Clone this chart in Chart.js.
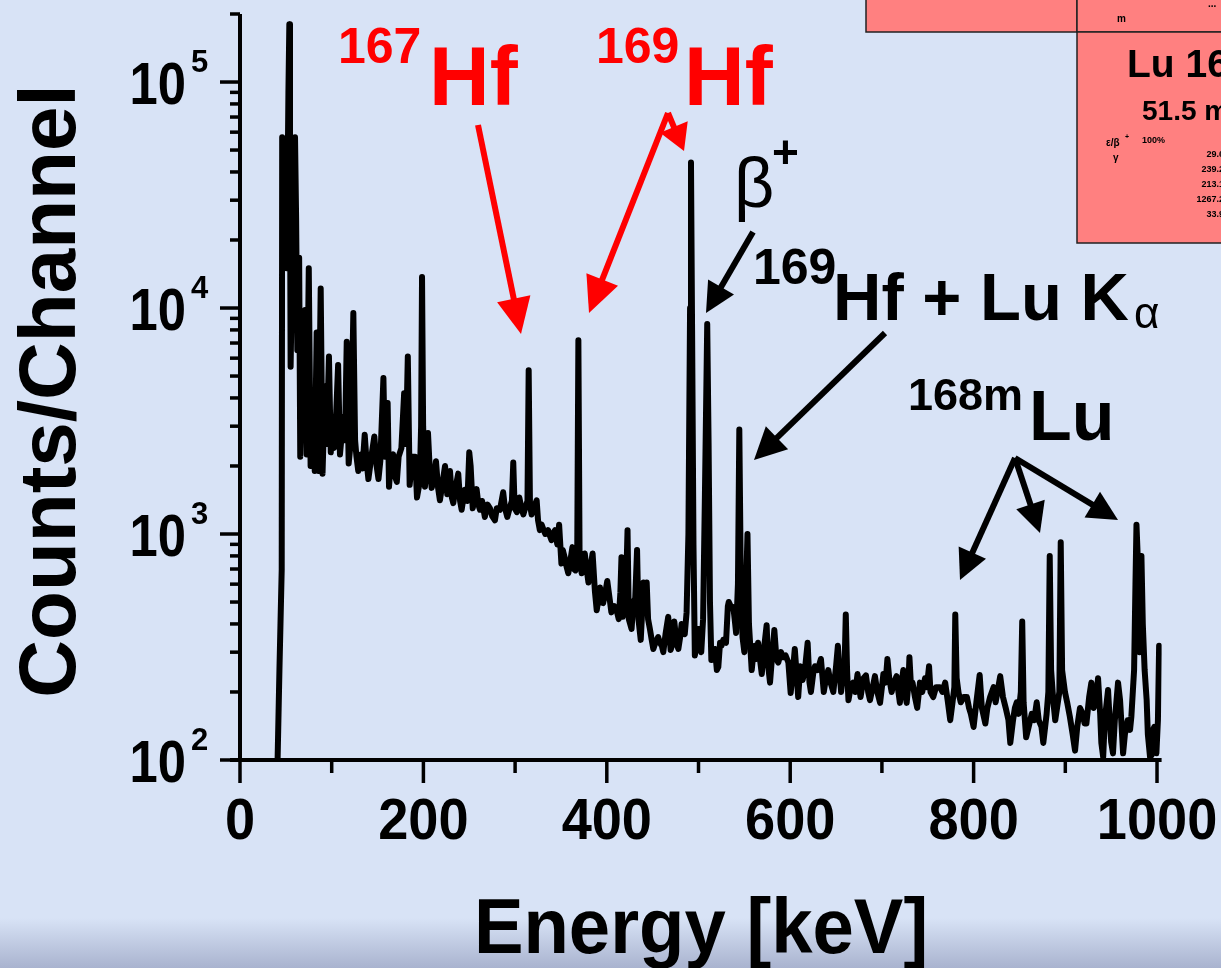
<!DOCTYPE html>
<html><head><meta charset="utf-8">
<script src="https://cdn.jsdelivr.net/npm/chart.js@4/dist/chart.umd.min.js"></script>
<style>html,body{margin:0;padding:0;background:#d8e3f6;overflow:hidden}</style>
</head><body>
<canvas id="c" width="1221" height="968"></canvas>
<script>
// ---- data ----
const energy = [41,43,45.5,46,47,48,49.5,51,52.8,53.8,54.5,55.2,56.5,58,60,61.2,62.5,64.5,65.7,67,69,71,72.7,75,77,80,81.5,83.6,85.5,88,90,92.7,94.5,97,99,100.5,102.5,105,107,109,112.7,114.5,116.4,118.5,121,123.6,125.5,127,129,131.6,133.5,136,138,140,143.6,146.5,149,151,153,156.4,158,161,162.5,164.5,167,169,171,173,176,179,181,183,185,188,191,193,196,197.5,198.5,199.7,201.7,205,207,209,211,213.7,216,218,221,223.6,226,229,231,232.6,235,238,240,241.7,245,248,250,251.5,253.8,256,258,260,261.7,264,267,270,272.6,275,278,280,283.5,287,289,291.5,294,296.5,298,299.5,302,304.6,307,309,311,313.5,314.8,316.2,318,320,323.5,325,327,329,330.8,333,336,338,339.7,341,343.5,346,348,350.5,352,354,356,358,360,362.5,364,365.8,367.8,369,370.3,372.6,374,376,378,380,382,384.5,387,389,391,392.6,394,396,398,400.5,403,405,408,410.7,413,414.8,416,417.5,420,421.5,422.6,424,427,429,431,433,434.5,437,438.5,440,442,443.5,445,447,449,450.7,453,456,458,460,461.6,464,467,469.6,472,473.6,476,478,480,481.6,483,485,487,489,490.8,491.8,493,494.5,496,498,500,501.6,503,505,507,509.5,511,512.5,514,516,518,520,521.6,523.5,525,527,530,532,533,536,538,540,541,543,544.5,546,548,550,552,553.4,555,558,560,561.6,563,565,567,569,571,574.3,576,578,580,582.7,585,587,590,592.5,595,598,600.5,603,605,607,608.7,611,613.5,616,619,621,622.6,625,627,630,633.5,636.6,639,641.5,644,647,650,652,654,655.5,657,659.3,660.6,662,663.5,666,668.6,671,673.4,676.7,680,682.6,685,687,690,692.4,695,698,700,701.6,704,706,708,710.6,713,716,718,719.6,721,723.3,725,727,729,730,731.5,733.4,736,738.5,741.5,744,747,749,751.4,753,756,759,763.4,766,769,772,774.5,777,779,780,781.5,783.6,786,789,792.7,795,797,800,803,806.6,809,812.8,815,818,821.8,824,826,829,832,835,838,840,843,845,847,849,851.5,853,854.5,857.3,860,863.4,866,868.8,871,874,876,878,879.6,881.5,883,884.5,887,889,891,893.5,895,896.5,899.6,902,905,908,910.6,913,916,919,921,923,926,928.4,931,933,935.7,938,939.3,941.3,943,946.6,948,950,952,954,957.5,959.7,961,963,965,968,970.6,972,975,976.5,977.6,979.5,981,983,984.5,986.5,988.7,990,992.4,994,995.6,997,999.3,1001,1002.3];
const counts = [100,250,700,57000,22000,55000,20000,15000,90000,180000,40000,5500,12000,25000,57000,25000,6500,16700,2200,4000,6500,9800,2250,15000,2000,3800,1900,7800,1900,12200,1850,4500,2500,6100,2300,3200,2400,3500,5600,2250,3300,2600,7100,2050,2600,9500,2600,2200,1900,2250,1950,2750,2100,1750,2250,2700,2000,1750,2100,4900,2200,3800,1620,2100,2250,1800,1700,2200,2400,4200,2500,6100,1650,2200,2200,1450,1700,3000,13700,3000,1620,2800,1900,1600,1700,2100,1600,1410,1700,2000,1500,1900,1450,1370,1600,1850,1400,1280,1570,1400,2300,2000,1300,1450,1580,1350,1280,1400,1190,1350,1300,1200,1150,1300,1280,1530,1300,1190,1300,1400,2070,1300,1250,1450,1300,1220,1300,1400,5300,1350,1220,1300,1410,1150,1040,1100,1050,1000,1040,980,940,1000,1040,900,1100,740,850,790,720,670,750,875,700,690,900,7200,800,670,760,820,700,610,700,820,560,460,520,580,500,495,540,620,520,450,480,460,420,550,790,430,500,700,1040,420,380,500,520,850,420,340,450,610,480,610,420,380,340,310,330,350,330,320,300,360,430,307,330,410,330,310,350,400,380,360,450,1000,10000,44000,8000,900,290,330,380,350,300,420,1500,8500,2500,500,277,290,310,250,258,330,320,340,330,480,500,470,475,400,365,600,2900,700,350,300,600,1000,400,250,300,320,280,330,280,240,300,395,260,220,280,376,280,270,300,285,290,270,198,250,310,240,190,260,226,250,330,220,200,240,260,250,280,200,230,250,220,200,260,320,240,200,230,260,440,250,184,210,220,200,240,190,230,237,200,184,210,235,200,179,210,240,220,280,230,200,220,235,200,179,210,250,200,179,220,285,220,220,190,170,220,200,230,210,260,200,190,210,210,200,220,180,150,180,210,440,230,198,180,190,190,170,160,140,180,238,170,145,170,190,210,180,200,235,190,170,150,119,150,170,180,160,200,410,180,126,140,160,150,180,150,140,119,140,160,200,800,250,180,150,170,200,920,250,200,180,155,130,110,140,170,160,145,145,190,220,170,180,230,160,119,103,150,204,160,120,107,150,220,184,150,107,130,150,136,155,250,600,1100,700,300,800,400,250,184,130,103,105,136,140,107,150,320];
const xMajorTicks = [0,200,400,600,800,1000];
const xTickLabels = ['0','200','400','600','800','1000'];
const xMinorTicks = [100,300,500,700,900];
const yMajorTicks = [100,1000,10000,100000];
const yTickBase = ['10','10','10','10'];
const yTickExp = ['2','3','4','5'];
const yMinorTicks = [200,300,400,500,600,700,800,900,2000,3000,4000,5000,6000,7000,8000,9000,20000,30000,40000,50000,60000,70000,80000,90000,200000];
const xTitle = 'Energy [keV]';
const yTitle = 'Counts/Channel';

const FAM = '"Liberation Sans", Arial, sans-serif';
function font(w, s){ return w + ' ' + s + 'px ' + FAM; }

function arrow(ctx, x1, y1, x2, y2, color, lw, hl, hw){
  const a = Math.atan2(y2 - y1, x2 - x1);
  const bx = x2 - hl * Math.cos(a), by = y2 - hl * Math.sin(a);
  ctx.save();
  ctx.strokeStyle = color; ctx.fillStyle = color; ctx.lineWidth = lw; ctx.lineCap = 'butt';
  ctx.beginPath(); ctx.moveTo(x1, y1); ctx.lineTo(bx + Math.cos(a)*2, by + Math.sin(a)*2); ctx.stroke();
  const px = -Math.sin(a) * hw / 2, py = Math.cos(a) * hw / 2;
  ctx.beginPath(); ctx.moveTo(x2, y2); ctx.lineTo(bx + px, by + py); ctx.lineTo(bx - px, by - py); ctx.closePath(); ctx.fill();
  ctx.restore();
}
function txt(ctx, s, x, y, f, color, align, sx){
  ctx.save();
  ctx.font = f; ctx.fillStyle = color || '#000'; ctx.textAlign = align || 'left'; ctx.textBaseline = 'alphabetic';
  ctx.translate(x, y); if (sx) ctx.scale(sx, 1);
  ctx.fillText(s, 0, 0);
  ctx.restore();
}

const deco = {
  id: 'deco',
  beforeDraw(chart){
    const ctx = chart.ctx, W = chart.width, H = chart.height;
    ctx.save();
    ctx.fillStyle = '#d8e3f6'; ctx.fillRect(0, 0, W, H);
    const g = ctx.createLinearGradient(0, 918, 0, H);
    g.addColorStop(0, '#d8e3f6'); g.addColorStop(1, '#a9b3cf');
    ctx.fillStyle = g; ctx.fillRect(0, 918, W, H - 918);
    // nuclide chart boxes (top right)
    ctx.fillStyle = '#ff8080'; ctx.strokeStyle = '#222'; ctx.lineWidth = 1.5;
    ctx.fillRect(866, -2, 211, 34); ctx.strokeRect(866, -2, 211, 34);
    ctx.fillRect(1077, -2, 150, 34); ctx.strokeRect(1077, -2, 150, 34);
    ctx.fillRect(1077, 32, 150, 211); ctx.strokeRect(1077, 32, 150, 211);
    txt(ctx, 'm', 1117, 22, font('bold', 10));
    txt(ctx, '...', 1208, 7, font('bold', 10));
    txt(ctx, 'Lu 167', 1127, 77, font('bold', 39));
    txt(ctx, '51.5 min', 1142, 120, font('bold', 28));
    txt(ctx, '\u03B5/\u03B2', 1106, 146, font('bold', 10));
    txt(ctx, '+', 1125, 139, font('bold', 7));
    txt(ctx, '100%', 1142, 143, font('bold', 9));
    txt(ctx, '\u03B3', 1113, 161, font('bold', 10));
    const gl = ['29.66','239.22','213.15','1267.20','33.91','...'];
    const gy = [157,172,187,202,217,232];
    for (let i = 0; i < gl.length; i++) txt(ctx, gl[i], 1229, gy[i], font('bold', 9), '#000', 'right');
    ctx.restore();
  },
  afterDraw(chart){
    const ctx = chart.ctx, xs = chart.scales.x, ys = chart.scales.y;
    const ca = chart.chartArea;
    const x0 = xs.getPixelForValue(0), yB = ys.getPixelForValue(100), yT = ys.getPixelForValue(200000);
    ctx.save();
    ctx.strokeStyle = '#000'; ctx.lineCap = 'butt';
    // axis lines
    ctx.lineWidth = 4;
    ctx.beginPath(); ctx.moveTo(x0, yT); ctx.lineTo(x0, yB); ctx.stroke();
    ctx.beginPath(); ctx.moveTo(x0 - 10, yB); ctx.lineTo(ca.right, yB); ctx.stroke();
    // ticks
    ctx.lineWidth = 3.5;
    xMajorTicks.forEach(v => { const p = xs.getPixelForValue(v); ctx.beginPath(); ctx.moveTo(p, yB); ctx.lineTo(p, yB + 23); ctx.stroke(); });
    xMinorTicks.forEach(v => { const p = xs.getPixelForValue(v); ctx.beginPath(); ctx.moveTo(p, yB); ctx.lineTo(p, yB + 13); ctx.stroke(); });
    yMajorTicks.forEach(v => { const p = ys.getPixelForValue(v); ctx.beginPath(); ctx.moveTo(x0, p); ctx.lineTo(x0 - 20, p); ctx.stroke(); });
    yMinorTicks.forEach(v => { const p = ys.getPixelForValue(v); ctx.beginPath(); ctx.moveTo(x0, p); ctx.lineTo(x0 - 10, p); ctx.stroke(); });
    // tick labels
    xMajorTicks.forEach((v, i) => txt(ctx, xTickLabels[i], xs.getPixelForValue(v), yB + 79, font('bold', 57), '#000', 'center', 0.95));
    yMajorTicks.forEach((v, i) => {
      const p = ys.getPixelForValue(v);
      txt(ctx, yTickBase[i], 186, p + 22, font('bold', 59), '#000', 'right', 0.86);
      txt(ctx, yTickExp[i], 191, p - 10, font('bold', 31));
    });
    // axis titles
    txt(ctx, xTitle, 701, 953, font('bold', 77), '#000', 'center', 0.965);
    ctx.save(); ctx.translate(75, 391); ctx.rotate(-Math.PI / 2);
    txt(ctx, yTitle, 0, 0, font('bold', 80), '#000', 'center');
    ctx.restore();
    // annotations
    const red = '#ff0000';
    txt(ctx, '167', 338, 63, font('bold', 50), red);
    txt(ctx, 'Hf', 429, 105, font('bold', 84), red);
    txt(ctx, '169', 596, 63, font('bold', 50), red);
    txt(ctx, 'Hf', 684, 105, font('bold', 84), red);
    arrow(ctx, 478, 125, 521, 334, red, 6, 36, 34);
    arrow(ctx, 668, 113, 589, 313, red, 6, 36, 34);
    arrow(ctx, 668, 113, 684, 151, red, 6, 26, 30);
    txt(ctx, '\u03B2', 734, 207, font('normal', 70));
    txt(ctx, '+', 772, 168, font('bold', 46));
    arrow(ctx, 753, 232, 706, 313, '#000', 6, 30, 30);
    txt(ctx, '169', 753, 284, font('bold', 50));
    txt(ctx, 'Hf + Lu K', 833, 320, font('bold', 67));
    txt(ctx, '\u03B1', 1134, 328, font('normal', 44));
    arrow(ctx, 885, 333, 754, 460, '#000', 6, 32, 32);
    txt(ctx, '168m', 908, 410, font('bold', 45));
    txt(ctx, 'Lu', 1029, 440, font('bold', 70));
    arrow(ctx, 1015, 458, 960, 580, '#000', 6, 30, 30);
    arrow(ctx, 1015, 458, 1040, 533, '#000', 6, 30, 30);
    arrow(ctx, 1015, 458, 1118, 520, '#000', 6, 30, 30);
    ctx.restore();
  }
};

const pts = energy.map((e, i) => ({x: e, y: counts[i]}));
new Chart(document.getElementById('c'), {
  type: 'line',
  data: { datasets: [{ data: pts, borderColor: '#000', borderWidth: 6, pointRadius: 0, tension: 0,
    borderJoinStyle: 'round', borderCapStyle: 'round', fill: false }] },
  options: {
    responsive: false, animation: false, devicePixelRatio: 1,
    layout: { padding: { left: 240, top: 14, right: 59.4, bottom: 208 } },
    plugins: { legend: { display: false }, tooltip: { enabled: false } },
    scales: {
      x: { type: 'linear', min: 0, max: 1005, display: false },
      y: { type: 'logarithmic', min: 100, max: 200000, display: false }
    }
  },
  plugins: [deco]
});
</script>
</body></html>
